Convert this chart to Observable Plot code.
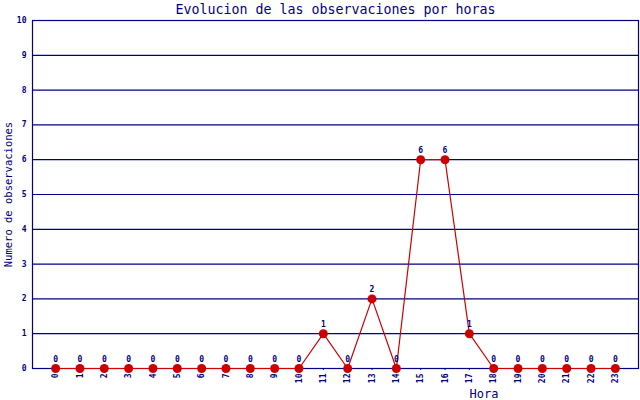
<!DOCTYPE html>
<html><head><meta charset="utf-8">
<script src="https://cdn.jsdelivr.net/npm/d3@7"></script>
<script src="https://cdn.jsdelivr.net/npm/@observablehq/plot@0.6"></script>
<style>
body{margin:0;background:#fff;}
svg{display:block;}
</style>
</head><body>
<div id="chart"></div>
<script>
const hours = [0,1,2,3,4,5,6,7,8,9,10,11,12,13,14,15,16,17,18,19,20,21,22,23];
const counts = [0,0,0,0,0,0,0,0,0,0,0,1,0,2,0,6,6,1,0,0,0,0,0,0];
const yTicks = [0,1,2,3,4,5,6,7,8,9,10];
const title = "Evolucion de las observaciones por horas";
const xLabel = "Hora";
const yLabel = "Numero de observaciones";

const data = hours.map((h,i)=>({h, v: counts[i]}));
const navy = "#000080";
const red = "#cc0000";
const mono = "DejaVu Sans Mono, monospace";

const chart = Plot.plot({
  width: 640, height: 400,
  marginTop: 20, marginBottom: 32, marginLeft: 32, marginRight: 2,
  style: {fontFamily: mono, background: "#fff", color: navy, overflow: "visible"},
  x: {domain: [-0.95, 23.95], label: null},
  y: {domain: [0, 10], label: null},
  marks: [
    Plot.ruleY(yTicks.filter(d=>d>0), {stroke: navy, strokeWidth: 1.2}),
    Plot.frame({stroke: navy, strokeWidth: 1.2}),
    Plot.axisY(yTicks, {tickSize: 0, tickPadding: 6, fontSize: 8, fontWeight: "bold", fill: navy, label: null}),
    Plot.axisX(hours, {tickSize: 2, tickPadding: 3, tickRotate: -90, fontSize: 8, fontWeight: "bold", fill: navy, stroke: navy, label: null}),
    Plot.line(data, {x: "h", y: "v", stroke: red, strokeWidth: 1.2}),
    Plot.dot(data, {x: "h", y: "v", r: 4.5, fill: red, stroke: "none"}),
    Plot.text(data, {x: "h", y: "v", text: d=>String(d.v), dy: -9, fontSize: 8, fontWeight: "bold", fill: navy}),
    Plot.text([title], {frameAnchor: "top", dy: -11, fontSize: 13.3, fill: navy, lineAnchor: "middle"}),
    Plot.text([xLabel], {x: 17.6, frameAnchor: "bottom", dy: 26, fontSize: 12, fill: navy, lineAnchor: "middle"}),
    Plot.text([yLabel], {frameAnchor: "left", dx: -24, rotate: -90, textAnchor: "middle", fontSize: 10.5, fill: navy})
  ]
});
document.getElementById("chart").appendChild(chart);
</script>
</body></html>
